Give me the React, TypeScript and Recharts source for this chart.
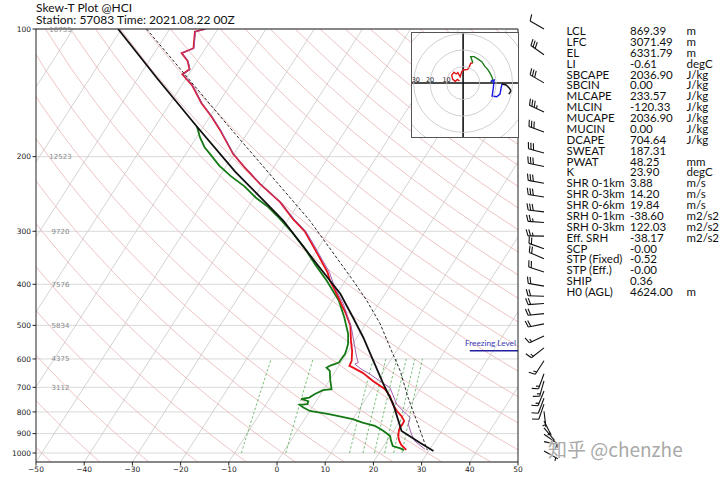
import React from 'react';
import {
  ComposedChart,
  Line,
  XAxis,
  YAxis,
  CartesianGrid,
  Scatter,
  ReferenceLine,
  ReferenceDot,
} from 'recharts';

// ---------------- data ----------------
const pressureTicks = [100, 200, 300, 400, 500, 600, 700, 800, 900, 1000];
const heightLabels = ['16755', '12523', '9720', '7576', '5834', '4375', '3112', '', '', ''];
const tempTicks = [-50, -40, -30, -20, -10, 0, 10, 20, 30, 40, 50];

// temperature (red)
const tempP = [100, 101.5, 111, 114, 119, 124.5, 128, 135.6, 149.6, 161, 173, 197, 212, 232, 256, 280, 300, 325, 350, 375, 392, 414, 440, 469, 500, 544, 575, 606, 623, 629, 647, 676, 706, 733, 767, 795, 818, 840, 855, 871, 890, 912, 935, 957, 983];
const tempT = [-72.6, -74.4, -72.5, -74.3, -72.0, -70.5, -71.3, -67.9, -63.5, -59.6, -56.1, -50.2, -46.0, -40.6, -34.0, -29.2, -25.0, -21.3, -17.9, -14.8, -13.2, -10.8, -8.2, -5.5, -3.0, -0.8, 0.8, 2.0, 2.2, 3.2, 5.9, 9.1, 12.6, 14.6, 16.3, 18.0, 19.7, 20.9, 21.0, 20.9, 21.2, 21.7, 22.5, 23.5, 25.2];

// dewpoint (green)
const dewP = [170, 180, 190, 197, 210, 222, 235, 250, 263, 278, 300, 330, 360, 392, 437, 479, 524, 553, 569, 584, 600, 612, 622, 629, 640, 670, 707, 711, 726, 740, 745, 755, 767, 770, 781, 796, 810, 832, 848, 863, 880, 895, 912, 935, 963, 975, 985];
const dewT = [-61.3, -59.3, -57.0, -55.0, -51.5, -47.8, -43.5, -39.6, -35.8, -32.3, -27.8, -22.6, -18.3, -13.9, -8.7, -5.3, -2.3, -1.0, -0.6, -0.3, -0.4, -0.4, -1.8, -2.3, -1.2, 0.0, 1.6, 0.0, -1.2, -1.9, -3.4, -1.6, -1.4, -2.9, -1.8, 0.0, 4.4, 10.0, 12.5, 15.5, 17.3, 18.6, 20.0, 20.8, 21.9, 23.8, 24.8];

// virtual temperature (purple)
const virtP = [100, 101.5, 111, 114, 119, 124.5, 128, 135.6, 149.6, 161, 173, 197, 212, 232, 256, 280, 300, 325, 350, 375, 407, 445, 506, 564, 595, 612, 617, 631, 652, 676, 701, 733, 767, 810, 825, 855, 903, 937, 980];
const virtT = [-72.5, -74.3, -72.4, -74.2, -71.9, -70.4, -71.2, -67.8, -63.4, -59.5, -56.0, -50.1, -45.9, -40.5, -33.9, -29.0, -24.8, -21.0, -17.6, -14.4, -11.3, -7.3, -2.5, 0.9, 2.6, 3.6, 3.1, 4.7, 7.6, 10.5, 13.5, 15.3, 17.1, 20.5, 21.7, 22.2, 24.2, 25.8, 29.0];

// parcel profile (black)
const parcelP = [100, 131, 170, 217, 256, 283, 350, 421, 479, 534, 606, 688, 767, 887, 903, 946, 989];
const parcelT = [-90.7, -75.9, -61.3, -47.4, -37.1, -30.9, -19.4, -9.3, -3.5, 1.3, 6.5, 11.7, 16.4, 21.7, 23.2, 27.1, 31.0];

// second parcel (black dashed)
const dashP = [100, 169, 283, 392, 437, 496, 564, 640, 740, 840, 972, 985];
const dashT = [-84.8, -55.0, -25.4, -8.4, -2.9, 3.0, 8.2, 13.4, 18.6, 23.5, 29.1, 29.6];

// wind barbs (direction deg, speed)
const windP = [100, 115, 134, 157, 175, 196, 211, 231, 249, 270, 286, 308, 330, 348, 374, 404, 427, 444, 469, 496, 530, 565, 606, 650, 676, 714, 743, 767, 797, 840, 872, 903, 940, 989];
const windDir = [300, 305, 300, 295, 290, 285, 282, 280, 279, 277, 274, 271, 290, 293, 288, 280, 272, 266, 264, 259, 245, 232, 213, 200, 196, 202, 201, 199, 173, 153, 140, 125, 102, 119];
const windSpd = [12, 30, 30, 33, 30, 28, 29, 29, 29, 28, 26, 24, 22, 20, 19, 18, 18, 19, 18, 18, 17, 17, 17, 17, 16, 13, 11, 9, 7, 7, 8, 8, 5, 3];

// hodograph segments
const hodoRedU = [-2.2, -3.4, -4.8, -6.3, -6.9, -5.5, -4.2, -3.2, -1.8, -0.8, 0.2, 2.8, 3.8, 4.6, 5.9];
const hodoRedV = [1.2, 2.2, 1.0, 2.2, 4.8, 6.5, 5.5, 6.3, 3.8, 6.9, 7.9, 8.3, 9.9, 11.9, 12.3];
const hodoGreenU = [5.9, 4.6, 6.7, 9.3, 11.3, 13.3, 14.9, 16.4, 17.6, 18.0, 16.8];
const hodoGreenV = [12.3, 16.0, 16.0, 14.3, 12.9, 9.9, 8.3, 5.9, 3.4, 1.8, 0.8];
const hodoBlueU = [16.8, 18.8, 18.4, 18.0, 17.6, 20.4, 22.4, 23.0, 23.6];
const hodoBlueV = [0.8, 1.8, -2.2, -5.3, -7.9, -8.3, -6.7, -3.2, -0.6];
const hodoBlackU = [23.6, 26.1, 28.1, 29.1, 27.7];
const hodoBlackV = [-0.6, -1.2, -3.2, -4.8, -6.7];
const hodoRings = [10, 20, 30, 40];
const hodoRingLabels = [30, 20, 10];

// parameter table
const paramNames = ['LCL', 'LFC', 'EL', 'LI', 'SBCAPE', 'SBCIN', 'MLCAPE', 'MLCIN', 'MUCAPE', 'MUCIN', 'DCAPE', 'SWEAT', 'PWAT', 'K', 'SHR 0-1km', 'SHR 0-3km', 'SHR 0-6km', 'SRH 0-1km', 'SRH 0-3km', 'Eff. SRH', 'SCP', 'STP (Fixed)', 'STP (Eff.)', 'SHIP', 'H0 (AGL)'];
const paramValues = ['869.39', '3071.49', '6331.79', '-0.61', '2036.90', '0.00', '233.57', '-120.33', '2036.90', '0.00', '704.64', '187.31', '48.25', '23.90', '3.88', '14.20', '19.84', '-38.60', '122.03', '-38.17', '-0.00', '-0.52', '-0.00', '0.36', '4624.00'];
const paramUnits = ['m', 'm', 'm', 'degC', 'J/kg', 'J/kg', 'J/kg', 'J/kg', 'J/kg', 'J/kg', 'J/kg', '', 'mm', 'degC', 'm/s', 'm/s', 'm/s', 'm2/s2', 'm2/s2', 'm2/s2', '', '', '', '', 'm'];

const freezingLevelP = 574;
const mixRatios = [2, 4, 10, 12, 14, 16, 18, 20]; // g/kg
const mixP = [1000, 900, 800, 700, 600];

// ---------------- skew-T helpers ----------------
const P_TOP = 100;
const P_BOT = 1050;
const SKEW = 100 * Math.tan((30 * Math.PI) / 180);
const LOG_SPAN = Math.log10(P_BOT / P_TOP);
const skew = (t: number, p: number) => t + (SKEW * Math.log10(P_BOT / p)) / LOG_SPAN;
const profile = (ps: number[], ts: number[]) => ps.map((p, i) => ({ x: skew(ts[i], p), p }));

const isotherms: { x: number; p: number }[][] = [];
for (let t = -120; t <= 50; t += 10) {
  isotherms.push([
    { x: skew(t, P_BOT), p: P_BOT },
    { x: skew(t, P_TOP), p: P_TOP },
  ]);
}
const adiabatP: number[] = [];
for (let p = 1050; p >= 100; p -= 25) adiabatP.push(p);
const dryAdiabats = [] as { x: number; p: number }[][];
for (let t0 = -50; t0 <= 260; t0 += 10) {
  dryAdiabats.push(
    adiabatP.map((p) => ({ x: skew((t0 + 273.15) * Math.pow(p / 1000, 0.2857) - 273.15, p), p }))
  );
}
const dewFromMix = (wgkg: number, p: number) => {
  const w = wgkg / 1000;
  const e = (w * p) / (0.622 + w);
  const l = Math.log(e / 6.112);
  return (243.5 * l) / (17.67 - l);
};
const mixLines = mixRatios.map((w) => mixP.map((p) => ({ x: skew(dewFromMix(w, p), p), p })));

const tempData = profile(tempP, tempT);
const dewData = profile(dewP, dewT);
const virtData = profile(virtP, virtT);
const parcelData = profile(parcelP, parcelT);
const dashData = profile(dashP, dashT);
const windData = windP.map((p, i) => ({ x: 0.4, p, dir: windDir[i], spd: windSpd[i] }));

const hodo = (us: number[], vs: number[]) => us.map((u, i) => ({ u, v: vs[i] }));

const fmtT = (v: number) => (v < 0 ? '\u2212' + Math.abs(v) : String(v));

const PTick = (props: any) => {
  const { x, y, payload } = props;
  const i = pressureTicks.indexOf(payload.value);
  const h = i >= 0 ? heightLabels[i] : '';
  return (
    <g>
      <text x={x} y={y} dy={2.7} textAnchor="end" fontSize={7.5} fill="#222" fontFamily="DejaVu Sans">
        {payload.value}
      </text>
      {h ? (
        <text x={60.5} y={y} dy={2.5} textAnchor="middle" fontSize={7} fill="#8a8a8a" fontFamily="DejaVu Sans">
          {h}
        </text>
      ) : null}
    </g>
  );
};

const Barb = (props: any) => {
  const { cx, cy, payload } = props;
  if (cx == null || cy == null) return null;
  const d = (payload.dir * Math.PI) / 180;
  const L = 16;
  const sx = Math.sin(d);
  const sy = -Math.cos(d);
  const tx = cx + sx * L;
  const ty = cy + sy * L;
  const px = -sy;
  const py = sx;
  const F = 6.5;
  const step = 2.6;
  let rest = Math.round(payload.spd / 5) * 5;
  const parts: React.ReactNode[] = [];
  parts.push(<line key="s" x1={cx} y1={cy} x2={tx} y2={ty} />);
  let pos = 0;
  let k = 0;
  while (rest >= 50) {
    const ax = tx - sx * pos;
    const ay = ty - sy * pos;
    const bx = tx - sx * (pos + step * 1.6);
    const by = ty - sy * (pos + step * 1.6);
    parts.push(
      <polygon key={'f' + k++} points={`${ax},${ay} ${ax + px * F},${ay + py * F} ${bx},${by}`} fill="#111" />
    );
    pos += step * 2;
    rest -= 50;
  }
  while (rest >= 10) {
    const ax = tx - sx * pos;
    const ay = ty - sy * pos;
    parts.push(
      <line key={'b' + k++} x1={ax} y1={ay} x2={ax + px * F + sx * F * 0.3} y2={ay + py * F + sy * F * 0.3} />
    );
    pos += step;
    rest -= 10;
  }
  if (rest >= 5) {
    if (pos === 0) pos = step;
    const ax = tx - sx * pos;
    const ay = ty - sy * pos;
    parts.push(
      <line key={'h' + k++} x1={ax} y1={ay} x2={ax + px * F * 0.5 + sx * F * 0.15} y2={ay + py * F * 0.5 + sy * F * 0.15} />
    );
  }
  return (
    <g stroke="#111" strokeWidth={1.1} fill="none">
      {parts}
    </g>
  );
};

const HODO_W = 106;
const HODO_H = 104;
const HODO_XD: [number, number] = [-31, 33.3];
const HODO_YD: [number, number] = [-32.7, 30.3];
const HODO_PX = HODO_W / (HODO_XD[1] - HODO_XD[0]);

const Hodograph = () => (
  <div
    style={{
      position: 'absolute',
      left: 412,
      top: 33,
      width: HODO_W,
      height: HODO_H,
      background: '#fff',
      boxShadow: '0 0 0 1px #555',
      overflow: 'hidden',
    }}
  >
    <ComposedChart width={HODO_W} height={HODO_H} margin={{ top: 0, right: 0, bottom: 0, left: 0 }}>
      <XAxis dataKey="u" type="number" domain={HODO_XD} hide allowDataOverflow />
      <YAxis dataKey="v" type="number" domain={HODO_YD} hide allowDataOverflow />
      {hodoRings.map((r) => (
        <ReferenceDot
          key={'ring' + r}
          x={0}
          y={0}
          r={r * HODO_PX}
          fill="none"
          stroke="#c4c4c4"
          strokeWidth={0.8}
          ifOverflow="visible"
        />
      ))}
      <ReferenceLine x={0} stroke="#111" strokeWidth={1.6} />
      <ReferenceLine y={0} stroke="#111" strokeWidth={1.6} />
      {hodoRingLabels.map((r) => (
        <ReferenceDot
          key={'lab' + r}
          x={-r}
          y={0}
          r={0}
          fill="none"
          stroke="none"
          label={{
            value: String(r),
            position: 'top',
            offset: 1.5,
            fontSize: 6.5,
            fill: '#222',
            fontFamily: 'DejaVu Sans',
            dx: r === 30 ? 2.2 : 0,
          }}
        />
      ))}
      <Line data={hodo(hodoRedU, hodoRedV)} dataKey="v" stroke="#e01010" strokeWidth={1.4} dot={false} isAnimationActive={false} />
      <Line data={hodo(hodoGreenU, hodoGreenV)} dataKey="v" stroke="#1a7d1a" strokeWidth={1.4} dot={false} isAnimationActive={false} />
      <Line data={hodo(hodoBlueU, hodoBlueV)} dataKey="v" stroke="#1414e6" strokeWidth={1.4} dot={false} isAnimationActive={false} />
      <Line data={hodo(hodoBlackU, hodoBlackV)} dataKey="v" stroke="#111" strokeWidth={1.4} dot={false} isAnimationActive={false} />
    </ComposedChart>
  </div>
);

const ROW_H = 10.875;
const cell = (left: number, i: number): React.CSSProperties => ({
  position: 'absolute',
  left,
  top: 26 + i * ROW_H,
  fontFamily: 'Lato',
  fontSize: 11.5,
  lineHeight: '10px',
  color: '#111',
  whiteSpace: 'nowrap',
});

export default function App() {
  return (
    <div style={{ position: 'absolute', left: 0, top: 0, width: 720, height: 480, background: '#fff', overflow: 'hidden' }}>
      <ComposedChart width={720} height={480} margin={{ top: 29, right: 202, bottom: 0, left: 0 }}>
        <CartesianGrid vertical={false} stroke="#cfcfcf" strokeWidth={0.8} />
        <XAxis
          dataKey="x"
          type="number"
          domain={[-50, 50]}
          allowDataOverflow
          ticks={tempTicks}
          interval={0}
          height={18}
          tickSize={3.5}
          tickMargin={1}
          stroke="#222"
          tick={{ fontSize: 7.5, fill: '#222', fontFamily: 'DejaVu Sans' }}
          tickFormatter={fmtT}
        />
        <YAxis
          dataKey="p"
          type="number"
          scale="log"
          domain={[P_TOP, P_BOT]}
          reversed
          allowDataOverflow
          ticks={pressureTicks}
          interval={0}
          width={36}
          tickSize={3.5}
          tickMargin={1.5}
          stroke="#222"
          tick={PTick}
        />
        {isotherms.map((d, i) => (
          <Line key={'iso' + i} data={d} dataKey="p" stroke="#c8c8c8" strokeWidth={0.8} dot={false} isAnimationActive={false} />
        ))}
        {dryAdiabats.map((d, i) => (
          <Line key={'dry' + i} data={d} dataKey="p" stroke="#ebb4b4" strokeWidth={0.8} dot={false} isAnimationActive={false} />
        ))}
        {mixLines.map((d, i) => (
          <Line
            key={'mix' + i}
            data={d}
            dataKey="p"
            stroke="#2e9a2e"
            strokeOpacity={0.8}
            strokeWidth={0.8}
            strokeDasharray="2.5 2"
            dot={false}
            isAnimationActive={false}
          />
        ))}
        <Line data={dewData} dataKey="p" stroke="#157a15" strokeWidth={1.8} dot={false} isAnimationActive={false} />
        <Line data={tempData} dataKey="p" stroke="#e8101a" strokeWidth={1.8} dot={false} isAnimationActive={false} />
        <Line data={virtData} dataKey="p" stroke="#9a4fa8" strokeWidth={0.9} dot={false} isAnimationActive={false} />
        <Line data={dashData} dataKey="p" stroke="#111" strokeWidth={0.9} strokeDasharray="3 2" dot={false} isAnimationActive={false} />
        <Line data={parcelData} dataKey="p" stroke="#111" strokeWidth={1.8} dot={false} isAnimationActive={false} />
        <ReferenceLine
          segment={[
            { x: 40, y: freezingLevelP },
            { x: 50, y: freezingLevelP },
          ]}
          stroke="#1f1fa0"
          strokeWidth={1.4}
        />
        <ReferenceLine y={P_TOP} stroke="#222" strokeWidth={1.2} />
        <ReferenceLine x={50} stroke="#222" strokeWidth={1} />
      </ComposedChart>

      <div style={{ position: 'absolute', left: 0, top: 0, pointerEvents: 'none' }}>
        <ComposedChart width={720} height={480} margin={{ top: 29, right: 140, bottom: 18, left: 520 }}>
          <XAxis dataKey="x" type="number" domain={[0, 1]} hide />
          <YAxis dataKey="p" type="number" scale="log" domain={[P_TOP, P_BOT]} reversed hide />
          <Scatter data={windData} shape={Barb} isAnimationActive={false} />
        </ComposedChart>
      </div>

      <Hodograph />

      <div
        style={{
          position: 'absolute',
          left: 36,
          top: 1.5,
          fontFamily: 'Lato',
          fontSize: 12,
          lineHeight: '12px',
          color: '#111',
          whiteSpace: 'nowrap',
        }}
      >
        <div>Skew-T Plot @HCI</div>
        <div>Station: 57083 Time: 2021.08.22 00Z</div>
      </div>

      <div
        style={{
          position: 'absolute',
          left: 465,
          top: 338,
          whiteSpace: 'nowrap',
          fontFamily: 'Lato',
          fontSize: 8.2,
          lineHeight: '10px',
          color: '#3a3ab8',
        }}
      >
        Freezing Level
      </div>

      {paramNames.map((n, i) => (
        <React.Fragment key={n}>
          <div style={cell(566.5, i)}>{n}</div>
          <div style={cell(630, i)}>{paramValues[i]}</div>
          <div style={cell(686.5, i)}>{paramUnits[i]}</div>
        </React.Fragment>
      ))}

      <div
        style={{
          position: 'absolute',
          left: 548,
          top: 438,
          fontFamily: '"Noto Sans CJK SC", "Noto Sans"',
          fontSize: 19,
          lineHeight: '22px',
          color: '#a9a9a9',
          whiteSpace: 'nowrap',
          textShadow: '0 0 2px #fff, 0 0 2px #fff',
        }}
      >
        知乎 @chenzhe
      </div>
    </div>
  );
}
